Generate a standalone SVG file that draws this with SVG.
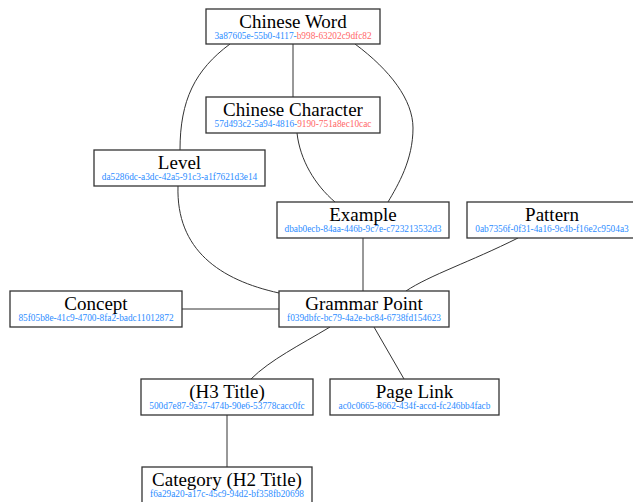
<svg xmlns="http://www.w3.org/2000/svg" width="633" height="502" viewBox="0 0 633 502">
<style>
.box{fill:#fff;stroke:#333;stroke-width:1.3}
.t{font-family:"Liberation Serif","Times New Roman",serif;font-size:19px;fill:#000;text-anchor:middle}
.id{font-family:"Liberation Serif","Times New Roman",serif;font-size:9.3px;fill:#2b8cff;text-anchor:middle}
.r{fill:#ff6666}
.e{fill:none;stroke:#333;stroke-width:1}
</style>
<rect width="633" height="502" fill="#fff"/>
<g id="connectors">
<path class="e" d="M230,44 C195,70 180,100 180,150"/>
<path class="e" d="M293,44 L293,97"/>
<path class="e" d="M355,44 C390,70 413,100 413,128 C413,160 398,185 388,202"/>
<path class="e" d="M297,133 C300,160 315,185 335,202"/>
<path class="e" d="M178,186 C176,250 220,280 279,293"/>
<path class="e" d="M363,238 L363,291"/>
<path class="e" d="M518,238 C470,262 430,275 406,291"/>
<path class="e" d="M182,309 L279,309"/>
<path class="e" d="M330,327 C300,345 270,360 251,379"/>
<path class="e" d="M374,327 L404,379"/>
<path class="e" d="M227,415 L227,467"/>
</g>
<g id="chinese-word">
<rect class="box" x="206" y="9" width="174" height="35"/>
<text class="t" x="293" y="27.5">Chinese Word</text>
<text class="id" x="293" y="38.5">3a87605e-55b0-4117-<tspan class="r">b998-63202c9dfc82</tspan></text>
</g>
<g id="chinese-character">
<rect class="box" x="206" y="97" width="174" height="36"/>
<text class="t" x="293" y="116">Chinese Character</text>
<text class="id" x="293" y="127">57d493c2-5a94-4816-<tspan class="r">9190-751a8ec10cac</tspan></text>
</g>
<g id="level">
<rect class="box" x="94" y="150" width="171" height="36"/>
<text class="t" x="179.5" y="169">Level</text>
<text class="id" x="179.5" y="180">da5286dc-a3dc-42a5-91c3-a1f7621d3e14</text>
</g>
<g id="example">
<rect class="box" x="277" y="202" width="172" height="36"/>
<text class="t" x="363" y="221">Example</text>
<text class="id" x="363" y="232">dbab0ecb-84aa-446b-9c7e-c723213532d3</text>
</g>
<g id="pattern">
<rect class="box" x="467" y="202" width="170" height="36"/>
<text class="t" x="552" y="221">Pattern</text>
<text class="id" x="552" y="232">0ab7356f-0f31-4a16-9c4b-f16e2c9504a3</text>
</g>
<g id="concept">
<rect class="box" x="10" y="291" width="172" height="36"/>
<text class="t" x="96" y="310">Concept</text>
<text class="id" x="96" y="321">85f05b8e-41c9-4700-8fa2-badc11012872</text>
</g>
<g id="grammar-point">
<rect class="box" x="279" y="291" width="170" height="36"/>
<text class="t" x="364" y="310">Grammar Point</text>
<text class="id" x="364" y="321">f039dbfc-bc79-4a2e-bc84-6738fd154623</text>
</g>
<g id="h3-title">
<rect class="box" x="141" y="379" width="172" height="36"/>
<text class="t" x="227" y="398">(H3 Title)</text>
<text class="id" x="227" y="409">500d7e87-9a57-474b-90e6-53778cacc0fc</text>
</g>
<g id="page-link">
<rect class="box" x="330" y="379" width="169" height="36"/>
<text class="t" x="414.5" y="398">Page Link</text>
<text class="id" x="414.5" y="409">ac0c0665-8662-434f-accd-fc246bb4facb</text>
</g>
<g id="category">
<rect class="box" x="142" y="467" width="170" height="36"/>
<text class="t" x="227" y="486">Category (H2 Title)</text>
<text class="id" x="227" y="497">f6a29a20-a17c-45c9-94d2-bf358fb20698</text>
</g>
</svg>
